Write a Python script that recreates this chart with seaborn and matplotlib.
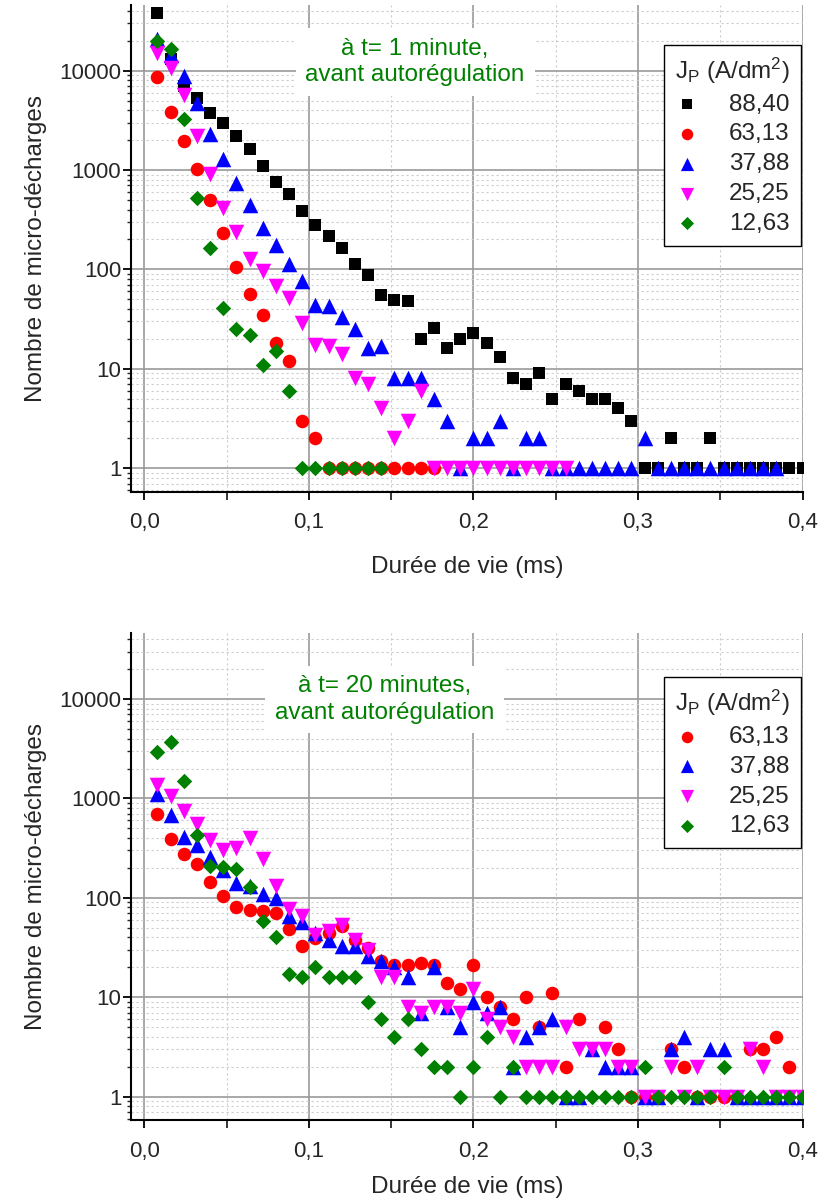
import numpy as np
import pandas as pd
import matplotlib
matplotlib.use("Agg")
import matplotlib.pyplot as plt
import seaborn as sns
from matplotlib.ticker import FixedLocator, LogLocator, MultipleLocator, NullFormatter, FuncFormatter

nan = np.nan

# centres des classes de durée de vie (ms), pas de 8 µs
duree = np.round(np.arange(1, 51) * 0.008, 3)

# ---- t = 1 minute ----
j8840_t1 = [38000, 13000, 7000, 5300, 3760, 2940, 2190, 1610, 1110, 750,
            576, 383, 281, 219, 165, 112, 87, 55, 49, 48,
            20, 26, 16, 20, 23, 18, 13, 8, 7, 9,
            5, 7, 6, 5, 5, 4, 3, 1, 1, 2,
            1, 1, 2, 1, 1, 1, 1, 1, 1, 1]
j6313_t1 = [8670, 3815, 1980, 1030, 497, 233, 106, 56, 35, 18,
            12, 3, 2, 1, 1, 1, 1, 1, 1, 1,
            1, 1] + [nan] * 28
j3788_t1 = [21000, 14500, 8900, 4740, 2280, 1300, 743, 443, 262, 178,
            112, 76, 44, 43, 33, 25, 16, 17, 8, 8,
            8, 5, 3, 1, 2, 2, 3, 1, 2, 2,
            1, 1, 1, 1, 1, 1, 1, 2, 1, 1,
            1, 1, 1, 1, 1, 1, 1, 1, nan, nan]
j2525_t1 = [15100, 10700, 5750, 2220, 920, 417, 239, 126, 96, 68,
            51, 29, 17.5, 17, 14, 8, 7, 4, 2, 3,
            6, 1, 1, 1, 1, 1, 1, 1, 1, 1,
            1, 1] + [nan] * 18
j1263_t1 = [19800, 16500, 3300, 526, 165, 41, 25, 22, 11, 15,
            6, 1, 1, 1, 1, 1, 1, 1] + [nan] * 32

# ---- t = 20 minutes ----
j6313_t20 = [690, 387, 274, 219, 145, 105, 81, 75, 74, 71,
             49, 33, 39, 44, 52, 38, 31, 23, 21, 21,
             22, 21, 14, 12, 21, 10, 8, 6, 10, 5,
             11, 2, 6, nan, 5, 3, 1, 1, 1, 3,
             2, 1, 1, 1, 1, 3, 3, 4, 2, 1]
j3788_t20 = [1120, 680, 406, 340, 259, 190, 142, 130, 109, 100,
             66, 57, 44, 38, 33, 33, 26, 23, 20, 16,
             7, 20, 8, 5, 9, 7, 8, 2, 4, 5,
             6, 1, 1, 3, 2, 2, 2, 1, 1, 3,
             4, 1, 3, 3, 1, 1, 1, 1, 1, 1]
j2525_t20 = [1360, 1060, 746, 548, 381, 302, 315, 397, 244, 131,
             78, 66, 42, 46, 53, 38, 30, 16, 16, 8,
             7, 8, 8, 7, 12, 6, 5, 4, 2, 2,
             2, 5, 3, 3, 3, 2, 2, 1, 1, 2,
             1, 2, 1, 1, 1, 3, 2, 1, 1, 1]
j1263_t20 = [2900, 3700, 1500, 428, 209, 205, 194, 129, 59, 40,
             17, 16, 20, 16, 16, 16, 9, 6, 4, 6,
             3, 2, 2, 1, 2, 4, 1, 2, 1, 1,
             1, 1, 1, 1, 1, 1, 1, 2, 1, 1,
             1, 1, 1, 2, 1, 1, 1, 1, 1, 1]

labels = ["88,40", "63,13", "37,88", "25,25", "12,63"]
markers = ["s", "o", "^", "v", "D"]
colors = ["black", "red", "blue", "magenta", "green"]
sizes = [78, 95, 125, 125, 62]

panels = [
    ([j8840_t1, j6313_t1, j3788_t1, j2525_t1, j1263_t1], [0, 1, 2, 3, 4],
     "à t= 1 minute,\navant autorégulation", (0.423, 0.882), 0.918, 16),
    ([j6313_t20, j3788_t20, j2525_t20, j1263_t20], [1, 2, 3, 4],
     "à t= 20 minutes,\navant autorégulation", (0.378, 0.864), 0.91, 10),
]

sns.set_style("white")
plt.rcParams["font.family"] = ["Liberation Sans", "DejaVu Sans"]
plt.rcParams["mathtext.fontset"] = "custom"
plt.rcParams["mathtext.rm"] = "Liberation Sans"
plt.rcParams["mathtext.it"] = "Liberation Sans:italic"

fs_tick = 16
fs_lab = 17.5
fs_txt = 17.5

fig = plt.figure(figsize=(8.19, 12.02), dpi=100)
axes = [fig.add_axes([0.16, 0.591, 0.82, 0.405]),
        fig.add_axes([0.16, 0.0682, 0.82, 0.405])]

for ax, (series, idx, note, note_pos, leg_y, xpad) in zip(axes, panels):
    for vals, k in zip(series, idx):
        df = pd.DataFrame({"duree": duree, "n": vals}).dropna()
        sns.scatterplot(data=df, x="duree", y="n", ax=ax, marker=markers[k],
                        color=colors[k], s=sizes[k], linewidth=0,
                        label=labels[k], zorder=3)

    ax.set_yscale("log")
    ax.set_ylim(0.58, 46000)
    ax.set_xlim(-0.008, 0.4)

    ax.xaxis.set_major_locator(FixedLocator([0.0, 0.1, 0.2, 0.3, 0.4]))
    ax.xaxis.set_minor_locator(MultipleLocator(0.05))
    ax.xaxis.set_major_formatter(FuncFormatter(lambda v, p: f"{v:.1f}".replace(".", ",")))
    ax.yaxis.set_major_locator(FixedLocator([1, 10, 100, 1000, 10000]))
    ax.yaxis.set_major_formatter(FuncFormatter(lambda v, p: f"{int(round(v))}"))
    ax.yaxis.set_minor_locator(LogLocator(base=10, subs=np.arange(2, 10), numticks=20))
    ax.yaxis.set_minor_formatter(NullFormatter())

    ax.grid(which="major", color="#9a9a9a", lw=1.2, ls="-", zorder=0)
    ax.grid(which="minor", color="#cccccc", lw=0.8, ls=(0, (2, 2.5)), zorder=0)
    ax.set_axisbelow(True)

    for side in ["top", "right"]:
        ax.spines[side].set_visible(False)
    for side in ["left", "bottom"]:
        ax.spines[side].set_color("black")
        ax.spines[side].set_linewidth(1.5)

    ax.tick_params(axis="both", which="major", direction="out", length=6, width=1.3,
                   labelsize=fs_tick, color="black", left=True, bottom=True)
    ax.tick_params(axis="y", which="minor", direction="out", length=3, width=1, left=True)
    ax.tick_params(axis="x", which="minor", direction="out", length=6, width=1.3, bottom=True)
    ax.tick_params(axis="x", which="major", pad=9)
    ax.tick_params(axis="y", which="major", pad=1)

    ax.set_xlabel("Durée de vie (ms)", fontsize=fs_lab, labelpad=xpad)
    ax.set_ylabel("Nombre de micro-décharges", fontsize=fs_lab, labelpad=9)

    ax.text(note_pos[0], note_pos[1], note, transform=ax.transAxes, ha="center", va="center",
            color="#008000", fontsize=fs_txt, linespacing=1.25, zorder=4,
            bbox=dict(facecolor="white", edgecolor="none", pad=7))

    leg = ax.legend(title=r"J$_\mathrm{P}$ (A/dm$^2$)", loc="upper right",
                    bbox_to_anchor=(0.997, leg_y), borderaxespad=0, fontsize=fs_txt,
                    title_fontsize=fs_txt, frameon=True, fancybox=False, framealpha=1,
                    edgecolor="black", handlelength=1.0, handletextpad=1.2,
                    labelspacing=0.32, borderpad=0.45, scatterpoints=1, markerscale=0.85)
    leg.get_frame().set_linewidth(1.0)
    leg.set_zorder(5)

fig.savefig("out.png", dpi=100)
